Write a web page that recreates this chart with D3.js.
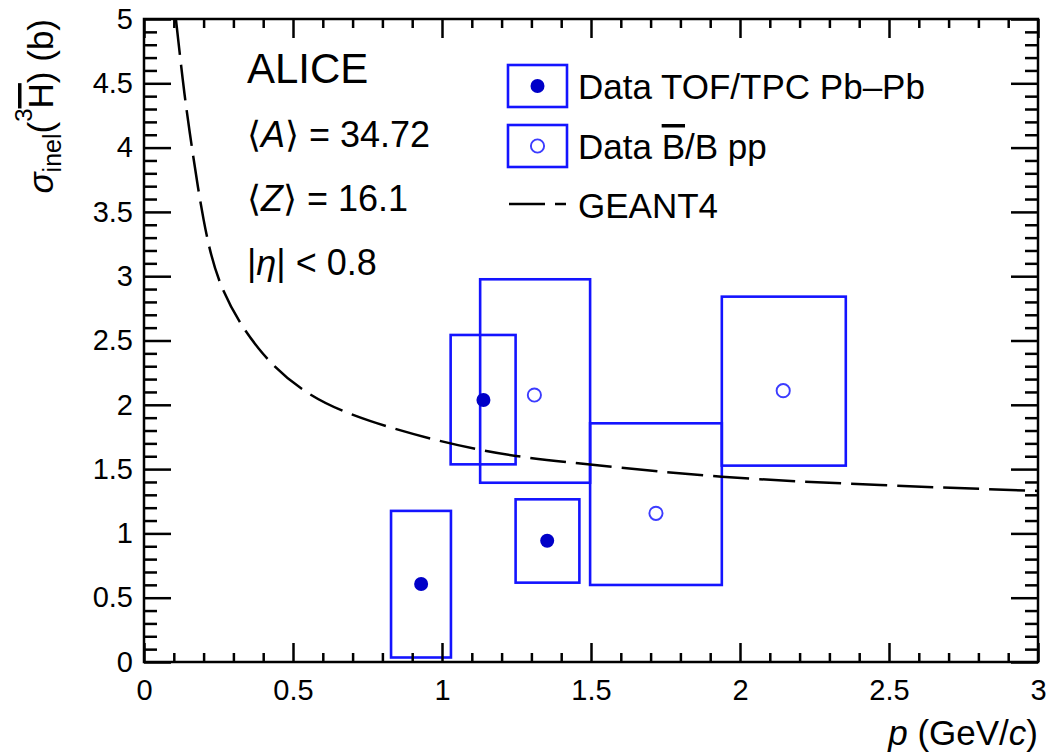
<!DOCTYPE html>
<html>
<head>
<meta charset="utf-8">
<script src="https://cdn.jsdelivr.net/npm/d3@7"></script>
<style>
  html, body { margin: 0; padding: 0; background: #fff; }
  svg { display: block; font-family: "Liberation Sans", Arial, Helvetica, sans-serif; }
</style>
</head>
<body>
<svg id="chart" width="1048" height="754"></svg>
<script>
// Pb–Pb TOF/TPC measurement: momentum, cross section, systematic box edges
const tofP        = [0.93, 1.139, 1.353];
const tofSigma    = [0.607, 2.037, 0.943];
const tofPLow     = [0.829, 1.029, 1.247];
const tofPHigh    = [1.030, 1.247, 1.461];
const tofSysLow   = [0.035, 1.537, 0.617];
const tofSysHigh  = [1.175, 2.543, 1.265];

// pp B̄/B measurement
const ppP        = [1.310, 1.718, 2.145];
const ppSigma    = [2.076, 1.156, 2.110];
const ppPLow     = [1.128, 1.497, 1.939];
const ppPHigh    = [1.497, 1.939, 2.355];
const ppSysLow   = [1.394, 0.599, 1.527];
const ppSysHigh  = [2.976, 1.856, 2.841];

// GEANT4 expectation
const geantP     = [0.107, 0.130, 0.154, 0.200, 0.266, 0.384, 0.535, 0.758, 1.128, 1.497, 1.939, 2.470, 3.0];
const geantSigma = [5.00, 4.53, 4.11, 3.44, 2.89, 2.44, 2.115, 1.875, 1.650, 1.535, 1.441, 1.376, 1.330];

// axis ticks
const xMajor = [0, 0.5, 1, 1.5, 2, 2.5, 3];
const xLabels = ["0", "0.5", "1", "1.5", "2", "2.5", "3"];
const yMajor = [0, 0.5, 1, 1.5, 2, 2.5, 3, 3.5, 4, 4.5, 5];
const yLabels = ["0", "0.5", "1", "1.5", "2", "2.5", "3", "3.5", "4", "4.5", "5"];

const svg = d3.select("#chart");
const L = 144, R = 1038, T = 19, B = 662;

const x = d3.scaleLinear().domain([0, 3]).range([L, R]);
const y = d3.scaleLinear().domain([0, 5]).range([B, T]);

const minorX = d3.range(0, 31).map(i => i / 10).filter(v => !xMajor.some(m => Math.abs(m - v) < 1e-9));
const minorY = d3.range(0, 51).map(i => i / 10).filter(v => !yMajor.some(m => Math.abs(m - v) < 1e-9));

const BOX = "#1414ff";
const DOT = "#0000c8";
const OPEN = "#3c3cff";

// data: systematic boxes
function boxes(pl, ph, lo, hi) {
  const g = svg.append("g");
  g.selectAll("rect").data(pl.map((d, i) => i)).join("rect")
    .attr("x", i => x(pl[i]))
    .attr("y", i => y(hi[i]))
    .attr("width", i => x(ph[i]) - x(pl[i]))
    .attr("height", i => y(lo[i]) - y(hi[i]))
    .attr("fill", "none")
    .attr("stroke", BOX)
    .attr("stroke-width", 2.6);
}
boxes(tofPLow, tofPHigh, tofSysLow, tofSysHigh);
boxes(ppPLow, ppPHigh, ppSysLow, ppSysHigh);

// GEANT4 curve
const line = d3.line().x((d, i) => x(geantP[i])).y(d => y(d)).curve(d3.curveNatural);
svg.append("path")
  .attr("d", line(geantSigma))
  .attr("fill", "none")
  .attr("stroke", "#000")
  .attr("stroke-width", 2.5)
  .attr("stroke-dasharray", "36,10");

// markers
svg.append("g").selectAll("circle").data(tofP).join("circle")
  .attr("cx", d => x(d))
  .attr("cy", (d, i) => y(tofSigma[i]))
  .attr("r", 7)
  .attr("fill", DOT);
svg.append("g").selectAll("circle").data(ppP).join("circle")
  .attr("cx", d => x(d))
  .attr("cy", (d, i) => y(ppSigma[i]))
  .attr("r", 6.6)
  .attr("fill", "#fff")
  .attr("stroke", OPEN)
  .attr("stroke-width", 1.9);

// axes (ticks point inward, mirrored on top and right)
function ticks(axisFn, scale, vals, size, transform, labels, pad) {
  const a = axisFn(scale).tickValues(vals).tickSizeInner(-size).tickSizeOuter(0).tickPadding(pad || 0)
    .tickFormat((d, i) => labels ? labels[i] : "");
  const g = svg.append("g").attr("transform", transform).call(a);
  g.select(".domain").remove();
  g.selectAll(".tick line").attr("stroke", "#000").attr("stroke-width", 2.5);
  return g;
}
const gxb = ticks(d3.axisBottom, x, xMajor, 19, `translate(0,${B})`, xLabels, 17);
ticks(d3.axisBottom, x, minorX, 9, `translate(0,${B})`);
ticks(d3.axisTop, x, xMajor, 19, `translate(0,${T})`);
ticks(d3.axisTop, x, minorX, 9, `translate(0,${T})`);
const gyl = ticks(d3.axisLeft, y, yMajor, 27, `translate(${L},0)`, yLabels, 11);
ticks(d3.axisLeft, y, minorY, 13, `translate(${L},0)`);
ticks(d3.axisRight, y, yMajor, 27, `translate(${R},0)`);
ticks(d3.axisRight, y, minorY, 13, `translate(${R},0)`);

gxb.selectAll("text").attr("font-size", 29).attr("fill", "#000").attr("font-family", null);
gyl.selectAll("text").attr("font-size", 29).attr("fill", "#000").attr("font-family", null);

// frame
svg.append("rect")
  .attr("x", L).attr("y", T).attr("width", R - L).attr("height", B - T)
  .attr("fill", "none").attr("stroke", "#000").attr("stroke-width", 2.5);

// axis titles
const xt = svg.append("text").attr("x", R).attr("y", 745).attr("text-anchor", "end").attr("font-size", 35);
xt.append("tspan").attr("font-style", "italic").text("p");
xt.append("tspan").text(" (GeV/");
xt.append("tspan").attr("font-style", "italic").text("c");
xt.append("tspan").text(")");

const yt = svg.append("text").attr("transform", "translate(53,19) rotate(-90)")
  .attr("text-anchor", "end").attr("font-size", 35);
yt.append("tspan").attr("font-style", "italic").text("σ");
yt.append("tspan").attr("font-size", 25).attr("dy", 8).text("inel");
yt.append("tspan").attr("dy", -8).text("(");
yt.append("tspan").attr("font-size", 24).attr("dy", -21).text("3");
yt.append("tspan").attr("dy", 21).attr("text-decoration", "overline").text("H");
yt.append("tspan").text(") (b)");

// annotation block
svg.append("text").attr("x", 247).attr("y", 83).attr("font-size", 42).text("ALICE");
const tA = svg.append("text").attr("x", 247).attr("y", 147).attr("font-size", 36);
tA.append("tspan").text("⟨");
tA.append("tspan").attr("font-style", "italic").text("A");
tA.append("tspan").text("⟩ = 34.72");
const tZ = svg.append("text").attr("x", 247).attr("y", 211).attr("font-size", 36);
tZ.append("tspan").text("⟨");
tZ.append("tspan").attr("font-style", "italic").text("Z");
tZ.append("tspan").text("⟩ = 16.1");
const tE = svg.append("text").attr("x", 247).attr("y", 275).attr("font-size", 36);
tE.append("tspan").text("|");
tE.append("tspan").attr("font-style", "italic").text("η");
tE.append("tspan").text("| < 0.8");

// legend
const leg = svg.append("g");
leg.append("rect").attr("x", 508).attr("y", 65).attr("width", 59).attr("height", 42)
  .attr("fill", "none").attr("stroke", BOX).attr("stroke-width", 2.6);
leg.append("circle").attr("cx", 537.5).attr("cy", 86).attr("r", 7).attr("fill", DOT);
leg.append("text").attr("x", 578).attr("y", 99).attr("font-size", 35).text("Data TOF/TPC Pb–Pb");

leg.append("rect").attr("x", 508).attr("y", 125).attr("width", 59).attr("height", 42)
  .attr("fill", "none").attr("stroke", BOX).attr("stroke-width", 2.6);
leg.append("circle").attr("cx", 537.5).attr("cy", 146).attr("r", 6.6)
  .attr("fill", "#fff").attr("stroke", OPEN).attr("stroke-width", 1.9);
const l2 = leg.append("text").attr("x", 578).attr("y", 159).attr("font-size", 35);
l2.append("tspan").text("Data ");
l2.append("tspan").attr("text-decoration", "overline").text("B");
l2.append("tspan").text("/B pp");

leg.append("line").attr("x1", 509).attr("x2", 566).attr("y1", 204).attr("y2", 204)
  .attr("stroke", "#000").attr("stroke-width", 2.5).attr("stroke-dasharray", "36,10");
leg.append("text").attr("x", 578).attr("y", 218).attr("font-size", 35).text("GEANT4");
</script>
</body>
</html>
